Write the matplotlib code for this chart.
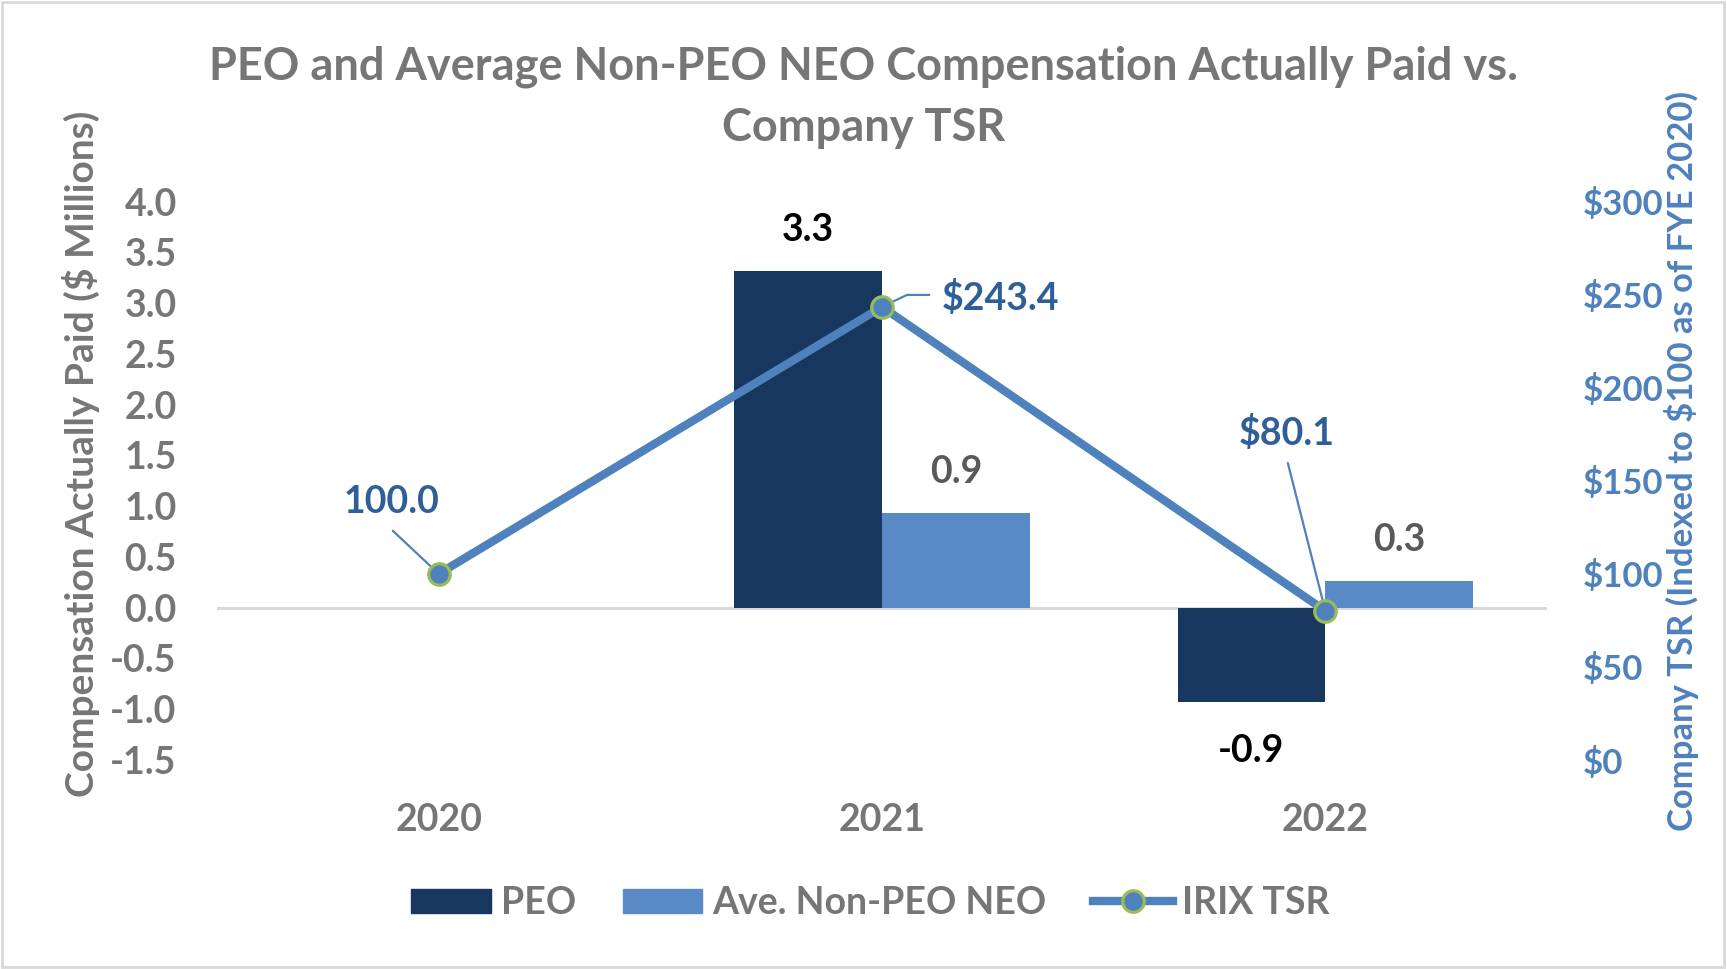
import matplotlib
matplotlib.use("Agg")
import matplotlib.pyplot as plt
from matplotlib.lines import Line2D
from matplotlib.patches import Patch, Rectangle
import numpy as np

plt.rcParams['font.family'] = ['Lato', 'DejaVu Sans']
plt.rcParams['font.weight'] = 'bold'

years = ['2020', '2021', '2022']
peo = [None, 3.3, -0.9]
peo_h = [0.0, 3.32, -0.93]
neo = [None, 0.9, 0.3]
neo_h = [0.0, 0.93, 0.26]
tsr = [100.0, 243.4, 80.1]
tsr_labels = ['100.0', '$243.4', '$80.1']
left_ticks = [-1.5, -1.0, -0.5, 0.0, 0.5, 1.0, 1.5, 2.0, 2.5, 3.0, 3.5, 4.0]
right_ticks = [0, 50, 100, 150, 200, 250, 300]

navy = '#17375E'
light = '#5A8AC6'
line_c = '#4F81BD'
green = '#9BBB59'
grey = '#767676'
dgrey = '#595959'
lblue = '#2F5F98'

W, H = 1727, 969
fig = plt.figure(figsize=(W / 100, H / 100), dpi=100)
ax = fig.add_axes([217 / W, 1 - 760 / H, 1330 / W, 558.5 / H])
ax2 = ax.twinx()

x = np.arange(len(years))
w = 1 / 3
ax.axhline(0, color='#D9D9D9', lw=2.2, zorder=1)
ax.bar(x - w / 2, peo_h, w, color=navy, zorder=2)
ax.bar(x + w / 2, neo_h, w, color=light, zorder=2)

for i in range(len(years)):
    if peo[i] is not None:
        off = 29 if peo_h[i] >= 0 else -35
        ax.annotate(f'{peo[i]:.1f}', xy=(x[i] - w / 2, peo_h[i]), xytext=(0, off),
                    textcoords='offset points', ha='center', va='center',
                    fontsize=27, color='black')
    if neo[i] is not None:
        ax.annotate(f'{neo[i]:.1f}', xy=(x[i] + w / 2, neo_h[i]), xytext=(0, 29.5),
                    textcoords='offset points', ha='center', va='center',
                    fontsize=27, color=dgrey)

ax.set_xlim(-0.5, 2.5)
ax.set_ylim(-1.5, 4.0)
ax.set_yticks(left_ticks)
ax.set_yticklabels([f'{t:.1f}' for t in left_ticks])
ax.set_xticks(x)
ax.set_xticklabels(years)
ax.tick_params(axis='y', length=0, pad=29, labelsize=27, labelcolor=grey)
ax.tick_params(axis='x', length=0, pad=31, labelsize=27, labelcolor=grey)
for s in ax.spines.values():
    s.set_visible(False)
for s in ax2.spines.values():
    s.set_visible(False)

ax.set_ylabel('Compensation Actually Paid ($ Millions)', fontsize=28, color=grey,
              fontweight='bold')
ax.yaxis.set_label_coords(-0.088, 0.548)

ax2.plot(x, tsr, color=line_c, lw=6, marker='o', ms=15.5, mfc=line_c,
         mec=green, mew=2.3, zorder=5)
ax2.set_ylim(0, 300)
ax2.set_yticks(right_ticks)
ax2.set_yticklabels([f'${t}' for t in right_ticks])
ax2.tick_params(axis='y', length=0, pad=26, labelsize=25, labelcolor=line_c)
ax2.set_ylabel('Company TSR (Indexed to $100 as of FYE 2020)', fontsize=24.9,
               color=line_c, rotation=90, fontweight='bold')
ax2.yaxis.set_label_coords(1.088, 0.536)

# TSR labels and leader lines (offsets in points)
lab_off = [(-34, 52), (85, 6.5), (-28, 128)]
lead_off = [(-33, 31), (34, 8.6), (-27, 106.5)]
conn = ['arc3', 'angle,angleA=0,angleB=25.6,rad=0', 'arc3']
for i in range(len(years)):
    ax2.annotate(tsr_labels[i], xy=(x[i], tsr[i]), xytext=lab_off[i],
                 textcoords='offset points', ha='center', va='center',
                 fontsize=27, color=lblue, zorder=6)
    ax2.annotate('', xy=(x[i], tsr[i]), xytext=lead_off[i],
                 textcoords='offset points',
                 arrowprops=dict(arrowstyle='-', color=line_c, lw=1.6,
                                 shrinkA=0, shrinkB=3, connectionstyle=conn[i]),
                 zorder=4)

fig.text(0.5, 0.8995, 'PEO and Average Non-PEO NEO Compensation Actually Paid vs.\nCompany TSR',
         ha='center', va='center', fontsize=32.5, color=grey, linespacing=1.55)

handles = [Patch(color=navy), Patch(color=light),
           Line2D([0], [0], color=line_c, lw=6, marker='o', ms=15.5, mfc=line_c,
                  mec=green, mew=2.3)]
leg = fig.legend(handles, ['PEO', 'Ave. Non-PEO NEO', 'IRIX TSR'], loc='center',
                 bbox_to_anchor=(0.504, 1 - 903 / H), ncol=3, frameon=False,
                 fontsize=27, handlelength=2.13, handleheight=0.6,
                 handletextpad=0.25, columnspacing=1.25)
for t in leg.get_texts():
    t.set_color(grey)

fig.patches.append(Rectangle((0.001, 0.002), 0.997, 0.996, transform=fig.transFigure,
                             fill=False, edgecolor='#D9D9D9', lw=2))

fig.savefig('out.png', dpi=100)
